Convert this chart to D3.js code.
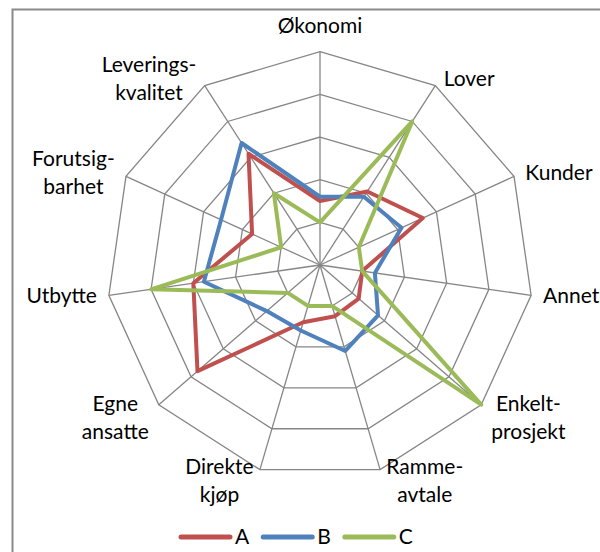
<!DOCTYPE html>
<html>
<head>
<meta charset="utf-8">
<script src="https://cdn.jsdelivr.net/npm/d3@7"></script>
<style>
  body { margin: 0; background: #fff; }
  text { font-family: Lato, "Liberation Sans", sans-serif; font-size: 21px; fill: #000; }
</style>
</head>
<body>
<div id="chart"></div>
<script>
// axis labels (line-broken like the original)
const axisLabels = [
  ["Økonomi"], ["Lover"], ["Kunder"], ["Annet"], ["Enkelt-", "prosjekt"],
  ["Ramme-", "avtale"], ["Direkte", "kjøp"], ["Egne", "ansatte"], ["Utbytte"],
  ["Forutsig-", "barhet"], ["Leverings-", "kvalitet"]
];
const seriesNames = ["A", "B", "C"];
const valuesA = [1.5, 2.05, 2.65, 1.0, 1.2, 1.25, 1.4, 3.8, 3.0, 1.75, 3.1];
const valuesB = [1.6, 1.9, 2.1, 1.3, 1.8, 2.1, 1.6, 1.65, 2.75, 2.55, 3.4];
const valuesC = [1.0, 4.0, 1.0, 1.0, 5.0, 1.0, 1.0, 1.0, 4.0, 1.0, 2.0];
const ringTicks = [1, 2, 3, 4, 5];

const width = 600, height = 552;
const cx = 320, cy = 265, radius = 213.3;
const lineH = 28;

const svg = d3.select("#chart").append("svg")
  .attr("width", width)
  .attr("height", height);

// chart area frame (runs off the right and bottom edge)
svg.append("rect")
  .attr("x", 12.5).attr("y", 9.5)
  .attr("width", 700).attr("height", 700)
  .attr("fill", "none")
  .attr("stroke", "#8a8a8a")
  .attr("stroke-width", 2);

const g = svg.append("g").attr("transform", `translate(${cx},${cy})`);

const n = axisLabels.length;
const angle = d3.scaleLinear().domain([0, n]).range([0, 2 * Math.PI]);
const r = d3.scaleLinear().domain([0, d3.max(ringTicks)]).range([0, radius]);
const color = d3.scaleOrdinal().domain(seriesNames).range(["#C0504D", "#4F81BD", "#9BBB59"]);

const idx = d3.range(n);

// grid rings
const ring = t => d3.lineRadial()
  .angle(i => angle(i))
  .radius(() => r(t))
  .curve(d3.curveLinearClosed);

g.selectAll("path.ring")
  .data(ringTicks)
  .join("path")
  .attr("class", "ring")
  .attr("d", t => ring(t)(idx))
  .attr("fill", "none")
  .attr("stroke", "#868686")
  .attr("stroke-width", 1.3);

// spokes
g.selectAll("line.spoke")
  .data(idx)
  .join("line")
  .attr("class", "spoke")
  .attr("x1", 0).attr("y1", 0)
  .attr("x2", i => d3.pointRadial(angle(i), radius)[0])
  .attr("y2", i => d3.pointRadial(angle(i), radius)[1])
  .attr("stroke", "#868686")
  .attr("stroke-width", 1.3);

// series
const series = [valuesA, valuesB, valuesC].map((v, k) => ({ name: seriesNames[k], values: v }));

const radar = d3.lineRadial()
  .angle((d, i) => angle(i))
  .radius(d => r(d))
  .curve(d3.curveLinearClosed);

g.selectAll("path.series")
  .data(series)
  .join("path")
  .attr("class", "series")
  .attr("d", d => radar(d.values))
  .attr("fill", "none")
  .attr("stroke", d => color(d.name))
  .attr("stroke-width", 4)
  .attr("stroke-linejoin", "round");

// axis labels, placed just outside each outer vertex
g.selectAll("text.axis-label")
  .data(axisLabels)
  .join("text")
  .attr("class", "axis-label")
  .attr("text-anchor", "middle")
  .each(function(lines, i) {
    const t = d3.select(this);
    lines.forEach(l => t.append("tspan").text(l));
    const w = d3.max(t.selectAll("tspan").nodes(), s => s.getComputedTextLength());
    const a = angle(i), s = Math.sin(a), c = Math.cos(a);
    const [vx, vy] = d3.pointRadial(a, radius);
    const gap = 4 + 8 * Math.abs(s);
    let bx, by;
    if (Math.abs(s) < 0.1) {
      bx = vx;
      by = vy - 12 - lineH / 2;
    } else {
      bx = s > 0 ? vx + gap + w / 2 : vx - gap - w / 2;
      // two-line labels on the lower half sit a bit lower, less so near the bottom
      const drop = lines.length > 1 && c < -0.3 ? (c < -0.9 ? 4 : 8) : 0;
      by = vy - 8 * c + drop;
    }
    const top = by - (lines.length - 1) * lineH / 2;
    t.selectAll("tspan")
      .attr("x", bx)
      .attr("y", (d, k) => top + k * lineH + 7);
  });

// legend
const legend = svg.append("g").attr("transform", "translate(181,537)");
let lx = 0;
series.forEach(d => {
  const item = legend.append("g").attr("transform", `translate(${lx},0)`);
  item.append("line")
    .attr("x1", 0).attr("x2", 49)
    .attr("stroke", color(d.name))
    .attr("stroke-width", 5)
    .attr("stroke-linecap", "round");
  const txt = item.append("text")
    .attr("x", 54).attr("y", 7)
    .text(d.name);
  lx += 54 + txt.node().getComputedTextLength() + 14;
});
</script>
</body>
</html>
